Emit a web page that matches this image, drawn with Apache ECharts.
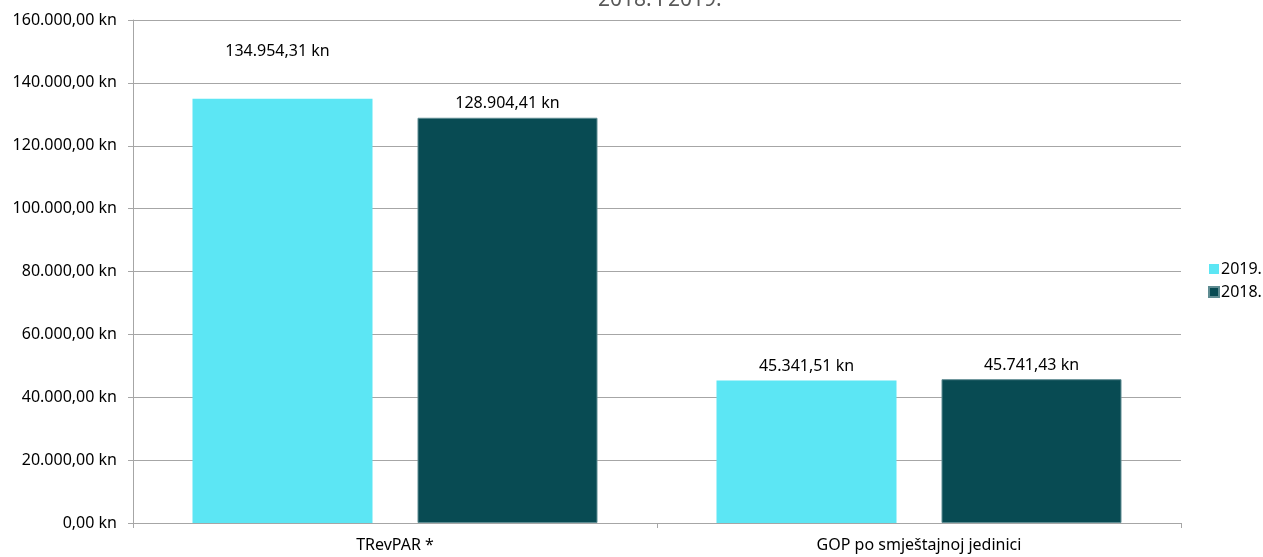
<!DOCTYPE html>
<html>
<head>
<meta charset="utf-8">
<script src="https://cdn.jsdelivr.net/npm/echarts@6/dist/echarts.min.js"></script>
<style>
    html, body { margin: 0; padding: 0; background: #fff; }
    #chart { width: 1263px; height: 557px; }
</style>
</head>
<body>
<div id="chart"></div>
<script>
// podaci
let categories = ['TRevPAR *', 'GOP po smještajnoj jedinici'];
let years = ['2019.', '2018.'];
let values2019 = [134954.31, 45341.51];
let values2018 = [128904.41, 45741.43];
let colors = ['#5ce6f4', '#084b53'];

// hrvatski format broja: 134.954,31 kn
function kn(v) {
    let parts = v.toFixed(2).split('.');
    let whole = parts[0].replace(/\B(?=(\d{3})+(?!\d))/g, '.');
    return whole + ',' + parts[1] + ' kn';
}

(function () {
    let myChart = echarts.init(document.getElementById('chart'));
    let font = 'Noto Sans';
    let fs = 16;

    // prva oznaka je u originalu pomaknuta gore
    let data2019 = values2019.map(function (v, i) {
        if (i === 0) {
            return { value: v, label: { offset: [-5, -33] } };
        }
        return v;
    });

    let option = {
        animation: false,
        color: colors,
        textStyle: { fontFamily: font },
        title: {
            text: '2018. i 2019.',
            left: 598,
            top: -10,
            padding: 0,
            textStyle: { fontFamily: font, fontSize: 21, fontWeight: 'normal', color: '#595959' }
        },
        legend: {
            orient: 'vertical',
            left: 1208,
            top: 258,
            padding: 0,
            icon: 'rect',
            itemWidth: 10,
            itemHeight: 10,
            itemGap: 1,
            textStyle: { fontFamily: font, fontSize: fs, color: '#000', lineHeight: 22, padding: [0, 0, 0, -3] },
            data: years
        },
        grid: {
            left: 133,
            right: 82,
            top: 20,
            bottom: 34,
            containLabel: false
        },
        xAxis: {
            type: 'category',
            data: categories,
            axisLine: { lineStyle: { color: '#a6a6a6' } },
            axisTick: { show: true, length: 5, lineStyle: { color: '#a6a6a6' } },
            axisLabel: { color: '#000', fontSize: fs, fontFamily: font, margin: 14 }
        },
        yAxis: {
            type: 'value',
            min: 0,
            max: 160000,
            interval: 20000,
            axisLine: { show: true, lineStyle: { color: '#a6a6a6' } },
            axisTick: { show: true, length: 5, lineStyle: { color: '#a6a6a6' } },
            axisLabel: {
                color: '#000',
                fontSize: fs,
                fontFamily: font,
                margin: 16,
                formatter: function (v) { return kn(v); }
            },
            splitLine: { lineStyle: { color: '#a6a6a6' } }
        },
        series: [
            {
                name: years[0],
                type: 'bar',
                barWidth: 180,
                barGap: '25%',
                data: data2019,
                label: {
                    show: true,
                    position: 'top',
                    distance: 6,
                    color: '#000',
                    fontSize: fs,
                    fontFamily: font,
                    formatter: function (p) { return kn(p.value); }
                }
            },
            {
                name: years[1],
                type: 'bar',
                barWidth: 180,
                data: values2018,
                itemStyle: { borderColor: '#5f8c92', borderWidth: 1 },
                label: {
                    show: true,
                    position: 'top',
                    distance: 6,
                    color: '#000',
                    fontSize: fs,
                    fontFamily: font,
                    formatter: function (p) { return kn(p.value); }
                }
            }
        ]
    };
    myChart.setOption(option);
    window.addEventListener('resize', function () {
        myChart.resize();
    })
})();
</script>
</body>
</html>
